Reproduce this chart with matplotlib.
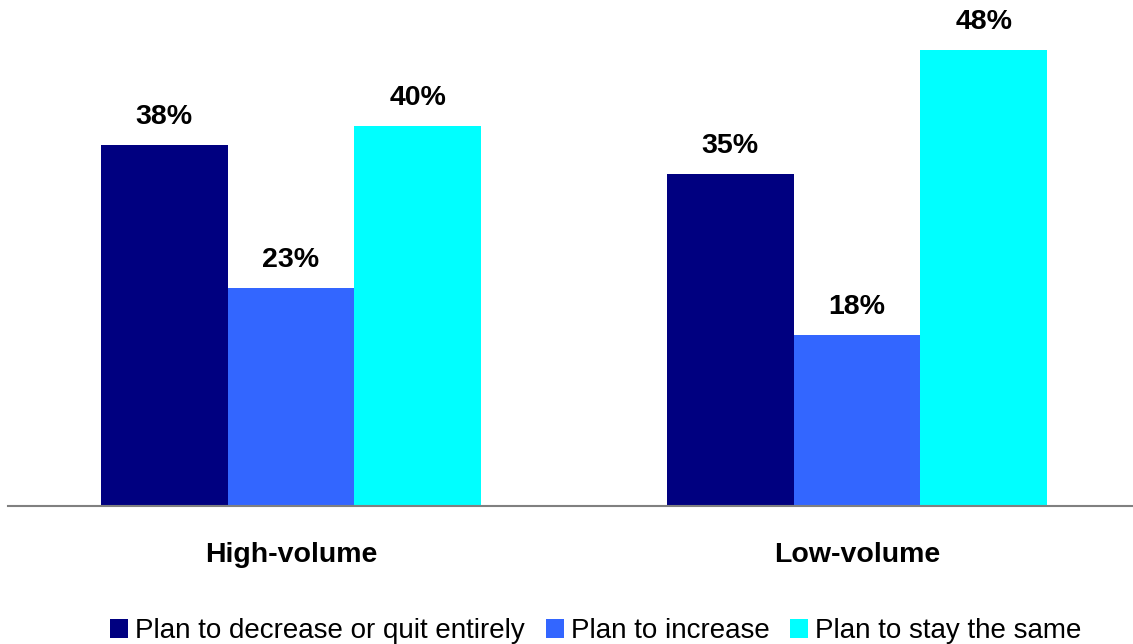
import matplotlib.pyplot as plt
import numpy as np

# ----------------
# data
# ----------------
groups = ['High-volume', 'Low-volume']
series = ['Plan to decrease or quit entirely', 'Plan to increase', 'Plan to stay the same']
decrease = [38, 35]
increase = [23, 18]
same = [40, 48]
colors = ['#000080', '#3366FF', '#00FFFF']

plt.rcParams['font.family'] = ['Liberation Sans', 'DejaVu Sans']

fig = plt.figure(figsize=(11.33, 6.44), dpi=100)
ax = fig.add_axes([8 / 1133, 138 / 644, 1132 / 1133, 475 / 644])

x = np.arange(len(groups))
width = 0.224
for i, (vals, col, lab) in enumerate(zip([decrease, increase, same], colors, series)):
    pos = x + (i - 1) * width
    ax.bar(pos, vals, width=width, color=col, label=lab, edgecolor='none')
    for px, v in zip(pos, vals):
        ax.annotate(f'{v}%', (px, v), xytext=(0, 10.5), textcoords='offset points',
                    ha='center', va='bottom', fontsize=20.5, fontweight='bold')

ax.set_xlim(-0.5, 1.5)
ax.set_ylim(0, 50)
ax.set_yticks([])
ax.set_xticks(x)
ax.set_xticklabels(groups, fontsize=20.5, fontweight='bold')
ax.tick_params(axis='x', length=0, pad=26)
for s in ['top', 'right', 'left']:
    ax.spines[s].set_visible(False)
ax.spines['bottom'].set_color('#808080')
ax.spines['bottom'].set_linewidth(1.5)

ax.legend(loc='center', bbox_to_anchor=(596 / 1133, 13 / 644), bbox_transform=fig.transFigure,
          ncol=3, frameon=False, fontsize=20, handlelength=0.65, handleheight=0.65,
          handletextpad=0.25, columnspacing=0.75, borderaxespad=0)

fig.savefig('out.png', dpi=100)
